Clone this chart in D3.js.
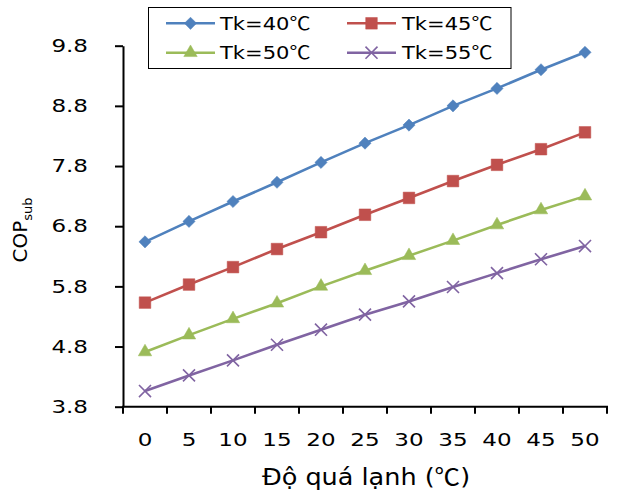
<!DOCTYPE html>
<html>
<head>
<meta charset="utf-8">
<script src="https://cdn.jsdelivr.net/npm/d3@7"></script>
<style>
  html, body { margin: 0; padding: 0; background: #fff; }
  svg { display: block; }
  text { font-family: "DejaVu Sans", Verdana, sans-serif; fill: #000; }
  .cjk { font-family: "Noto Sans CJK SC", "DejaVu Sans", sans-serif; }
</style>
</head>
<body>
<svg id="chart" width="627" height="493"></svg>
<script>
// ---- data ----
const categories = [0, 5, 10, 15, 20, 25, 30, 35, 40, 45, 50];
const tk40 = [6.54, 6.88, 7.21, 7.53, 7.86, 8.18, 8.48, 8.80, 9.09, 9.40, 9.69];
const tk45 = [5.53, 5.83, 6.12, 6.42, 6.70, 6.99, 7.27, 7.55, 7.82, 8.08, 8.36];
const tk50 = [4.71, 4.99, 5.26, 5.52, 5.80, 6.06, 6.31, 6.56, 6.82, 7.07, 7.30];
const tk55 = [4.06, 4.32, 4.57, 4.83, 5.08, 5.33, 5.55, 5.79, 6.02, 6.25, 6.47];
const seriesNames = ["Tk=40℃", "Tk=45℃", "Tk=50℃", "Tk=55℃"];
const yTicks = [3.8, 4.8, 5.8, 6.8, 7.8, 8.8, 9.8];
const xTitle = "Độ quá lạnh (℃)";
const yTitleMain = "COP";
const yTitleSub = "sub";

// ---- styles ----
const colors = ["#4F81BD", "#C0504D", "#9BBB59", "#8064A2"];
const seriesValues = [tk40, tk45, tk50, tk55];
const markers = [
  { type: d3.symbolSquare, size: 74, rotate: 45, fill: true },
  { type: d3.symbolSquare, size: 135, rotate: 0, fill: true },
  { type: d3.symbolTriangle, size: 78, rotate: 0, fill: true },
  { type: d3.symbolTimes, size: 96, rotate: 0, fill: false }
];

const svg = d3.select("#chart");
const mLeft = 123, mRight = 607, mTop = 45.7, mBottom = 406.7;

const x = d3.scaleBand().domain(categories).range([mLeft, mRight]).padding(0);
const y = d3.scaleLinear().domain([3.8, 9.8]).range([mBottom, mTop]);
const cx = d => x(d) + x.bandwidth() / 2;

function stretch(sel, sx) {
  sel.each(function () {
    const t = d3.select(this);
    const tx = +t.attr("x") || 0, ty = +t.attr("y") || 0;
    t.attr("x", 0).attr("y", 0)
     .attr("transform", `translate(${tx},${ty}) scale(${sx},1)`);
  });
}
// write a string, putting the ℃ sign in a CJK (full-width) font as in the original
function richText(t, str) {
  str.split(/(℃)/).filter(s => s.length).forEach(part => {
    const ts = t.append("tspan").text(part);
    if (part === "℃") ts.attr("class", "cjk");
  });
}

// ---- y axis ----
const yAxis = svg.append("g")
  .attr("transform", `translate(${mLeft},0)`)
  .call(d3.axisLeft(y).tickValues(yTicks).tickFormat(d3.format(".1f"))
    .tickSize(8).tickSizeOuter(0).tickPadding(27));
yAxis.select(".domain").attr("stroke", "#000").attr("stroke-width", 2);
yAxis.selectAll(".tick line").attr("stroke", "#000").attr("stroke-width", 2);
yAxis.selectAll(".tick text").attr("font-size", 18).attr("font-family", "DejaVu Sans").attr("fill", "#000");
stretch(yAxis.selectAll(".tick text"), 1.28);

// ---- x axis ----
const xAxis = svg.append("g");
xAxis.append("line")
  .attr("x1", mLeft - 1).attr("x2", mRight + 1)
  .attr("y1", mBottom).attr("y2", mBottom)
  .attr("stroke", "#000").attr("stroke-width", 2);
const boundaries = categories.map(d => x(d)).concat([x.range()[1]]);
xAxis.selectAll(".xt").data(boundaries).join("line")
  .attr("x1", d => d).attr("x2", d => d)
  .attr("y1", mBottom).attr("y2", mBottom + 7)
  .attr("stroke", "#000").attr("stroke-width", 2);
const xLabels = xAxis.selectAll(".xl").data(categories).join("text")
  .attr("x", d => cx(d)).attr("y", 446)
  .attr("text-anchor", "middle").attr("font-size", 18)
  .text(d => d);
stretch(xLabels, 1.28);

// ---- axis titles ----
const xt = svg.append("text")
  .attr("x", 366).attr("y", 485)
  .attr("text-anchor", "middle").attr("font-size", 23);
richText(xt, xTitle);
stretch(xt, 1.11);

const yt = svg.append("text")
  .attr("transform", "translate(27,230) rotate(-90)")
  .attr("text-anchor", "middle").attr("font-size", 20);
yt.append("tspan").text(yTitleMain);
yt.append("tspan").attr("font-size", 13).attr("dy", 5).text(yTitleSub);

// ---- series ----
const line = d3.line().x((d, i) => cx(categories[i])).y(d => y(d));
const plot = svg.append("g");
seriesValues.forEach((vals, si) => {
  plot.append("path").datum(vals)
    .attr("d", line)
    .attr("fill", "none").attr("stroke", colors[si]).attr("stroke-width", 2.6);
});
seriesValues.forEach((vals, si) => {
  const m = markers[si];
  const sym = d3.symbol(m.type, m.size);
  plot.selectAll(".m" + si).data(vals).join("path")
    .attr("d", sym)
    .attr("transform", (d, i) => `translate(${cx(categories[i])},${y(d)}) rotate(${m.rotate})`)
    .attr("fill", m.fill ? colors[si] : "none")
    .attr("stroke", colors[si]).attr("stroke-width", m.fill ? 0.5 : 1.6);
});

// ---- legend ----
const lg = svg.append("g");
lg.append("rect")
  .attr("x", 148.5).attr("y", 7.5).attr("width", 362.5).attr("height", 61)
  .attr("fill", "#fff").attr("stroke", "#000").attr("stroke-width", 1);
const legendPos = [
  { x1: 166, x2: 215, y: 23.3, tx: 220, ty: 29.8 },
  { x1: 347, x2: 396, y: 23.3, tx: 402, ty: 29.8 },
  { x1: 166, x2: 215, y: 52.7, tx: 220, ty: 59.0 },
  { x1: 347, x2: 396, y: 52.7, tx: 402, ty: 59.0 }
];
seriesNames.forEach((name, si) => {
  const p = legendPos[si];
  const m = markers[si];
  lg.append("line").attr("x1", p.x1).attr("x2", p.x2).attr("y1", p.y).attr("y2", p.y)
    .attr("stroke", colors[si]).attr("stroke-width", 2.6);
  lg.append("path").attr("d", d3.symbol(m.type, m.size))
    .attr("transform", `translate(${(p.x1 + p.x2) / 2},${p.y}) rotate(${m.rotate})`)
    .attr("fill", m.fill ? colors[si] : "none")
    .attr("stroke", colors[si]).attr("stroke-width", m.fill ? 0.5 : 1.6);
  const t = lg.append("text").attr("x", p.tx).attr("y", p.ty)
    .attr("font-size", 18);
  richText(t, name);
  stretch(t, 1.17);
});
</script>
</body>
</html>
